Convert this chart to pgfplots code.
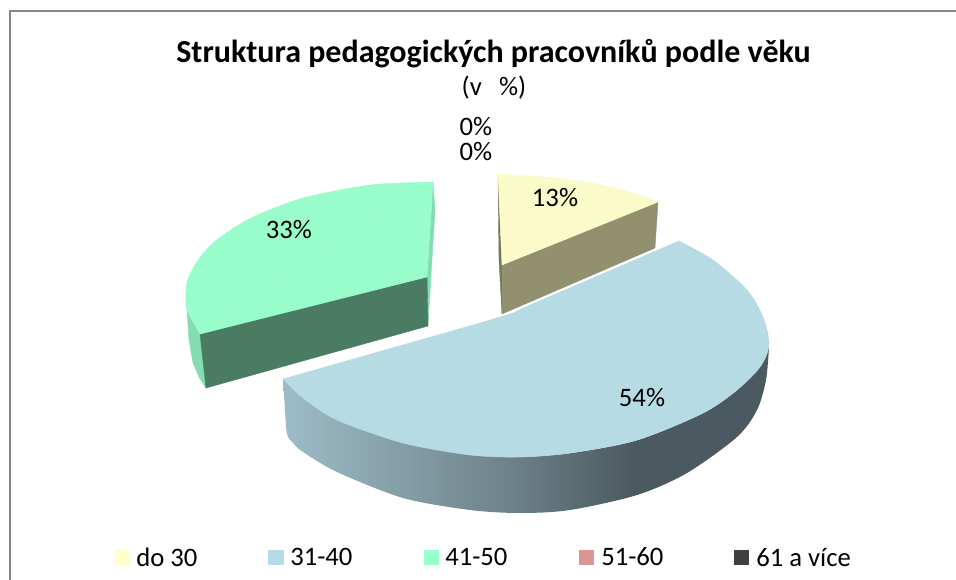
\documentclass[border=0pt]{standalone}
\usepackage{fontspec}
\setmainfont{Carlito}
\usepackage{pgfplots}
\pgfplotsset{compat=1.18}
\definecolor{ytop}{HTML}{FBFAC9}
\definecolor{yfront}{HTML}{919170}
\definecolor{yside}{HTML}{77775C}
\definecolor{btop}{HTML}{B7DBE5}
\definecolor{gtop}{HTML}{99FCCB}
\definecolor{gfront}{HTML}{4A7B63}
\definecolor{gside}{HTML}{84DDB2}
\pgfdeclarehorizontalshading{rim}{100bp}{
 color(0bp)=(rgb,255:red,155;green,186;blue,197);
 color(26bp)=(rgb,255:red,155;green,186;blue,197);
 color(49bp)=(rgb,255:red,108;green,128;blue,135);
 color(61bp)=(rgb,255:red,75;green,90;blue,96);
 color(100bp)=(rgb,255:red,75;green,90;blue,96)}
\begin{document}
\begin{tikzpicture}
\path[use as bounding box] (0,0) rectangle (717pt,435pt);
\begin{axis}[
  scale only axis, width=717pt, height=435pt,
  xmin=0, xmax=956, ymin=0, ymax=580, y dir=reverse,
  hide axis, clip=true,
  every axis plot/.append style={line width=0.3pt},
]
% frame
\addplot[draw={rgb,255:red,134;green,134;blue,134}, line width=1.5pt] coordinates {(10,580) (10,11) (956,11)};
% blue slice: rim
\addplot[draw=none,shading=rim,smooth] coordinates {(283,379) (285,410) (287,434) (293,443) (303,452) (337,472) (403,498) (470,510) (520,513) (570,510) (637,495) (687,473) (737,437) (757,410) (766,380) (769,347)} --cycle;
% blue slice: top face
\addplot[draw=btop,fill=btop,smooth] coordinates {(283,379) (303,398) (337,420) (403,443) (470,455) (520,457) (570,453) (637,440) (703,413) (737,390)} --cycle;
\addplot[draw=btop,fill=btop,smooth] coordinates {(520,457) (570,453) (637,440) (703,413) (737,390) (760,367) (769,345) (763,317) (747,290) (713,260) (679,241)} --cycle;
\addplot[draw=btop,fill=btop] coordinates {(283,379) (480,323) (513,313) (523,308) (679,241) (520,457)} --cycle;
% yellow slice
\addplot[draw=yside,fill=yside] coordinates {(498,174) (502,265) (502,314) (499,260)} --cycle;
\addplot[draw=yfront,fill=yfront] coordinates {(502,265) (658,202) (655,248) (502,314)} --cycle;
\addplot[draw=ytop,fill=ytop,smooth] coordinates {(498,174) (530,176) (555,178) (580,181) (602,185) (623,190) (642,196) (658,202)} --cycle;
\addplot[draw=ytop,fill=ytop] coordinates {(498,174) (658,202) (502,265)} --cycle;
% green slice
\addplot[draw=gside,fill=gside] coordinates {(186,293) (187,310) (189,340) (193,363) (199,377) (206,388) (200,334)} --cycle;
\addplot[draw=gside,fill=gside] coordinates {(433,182) (435,210) (428,326) (427,277)} --cycle;
\addplot[draw=gfront,fill=gfront] coordinates {(200,334) (427,277) (428,326) (206,388)} --cycle;
\addplot[draw=gtop,fill=gtop,smooth] coordinates {(433,182) (400,183) (370,185) (335,191) (303,198) (277,207) (253,217) (232,229) (213,243) (201,256) (192,270) (187,282) (186,293) (187,310) (200,334)} --cycle;
\addplot[draw=gtop,fill=gtop] coordinates {(433,182) (200,334) (427,277)} --cycle;
% legend swatches
\addplot[draw=none,fill={rgb,255:red,255;green,255;blue,204}] coordinates {(115,550) (130,550) (130,565) (115,565)} --cycle;
\addplot[draw=none,fill=btop] coordinates {(268,550) (284,550) (284,565) (268,565)} --cycle;
\addplot[draw=none,fill={rgb,255:red,153;green,255;blue,204}] coordinates {(424,550) (439,550) (439,565) (424,565)} --cycle;
\addplot[draw=none,fill={rgb,255:red,218;green,150;blue,148}] coordinates {(579,550) (594,550) (594,565) (579,565)} --cycle;
\addplot[draw=none,fill={rgb,255:red,64;green,64;blue,64}] coordinates {(734,550) (749,550) (749,565) (734,565)} --cycle;
% text
\node[font=\fontsize{24}{26}\selectfont\bfseries] at (axis cs:493.5,54) {Struktura pedagogických pracovníků podle věku};
\node[font=\fontsize{20}{22}\selectfont] at (axis cs:494,88) {(v\hspace{13pt}\%)};
\node[font=\fontsize{20}{22}\selectfont] at (axis cs:476,127) {0\%};
\node[font=\fontsize{20}{22}\selectfont] at (axis cs:476,152) {0\%};
\node[font=\fontsize{20}{22}\selectfont] at (axis cs:555,198) {13\%};
\node[font=\fontsize{20}{22}\selectfont] at (axis cs:289,230) {33\%};
\node[font=\fontsize{20}{22}\selectfont] at (axis cs:642,398) {54\%};
\node[font=\fontsize{20}{22}\selectfont,anchor=west,inner sep=0pt] at (axis cs:136,557) {do 30};
\node[font=\fontsize{20}{22}\selectfont,anchor=west,inner sep=0pt] at (axis cs:290,557) {31-40};
\node[font=\fontsize{20}{22}\selectfont,anchor=west,inner sep=0pt] at (axis cs:445,557) {41-50};
\node[font=\fontsize{20}{22}\selectfont,anchor=west,inner sep=0pt] at (axis cs:601,557) {51-60};
\node[font=\fontsize{20}{22}\selectfont,anchor=west,inner sep=0pt] at (axis cs:756,557) {61 a více};
\end{axis}
\end{tikzpicture}
\end{document}
